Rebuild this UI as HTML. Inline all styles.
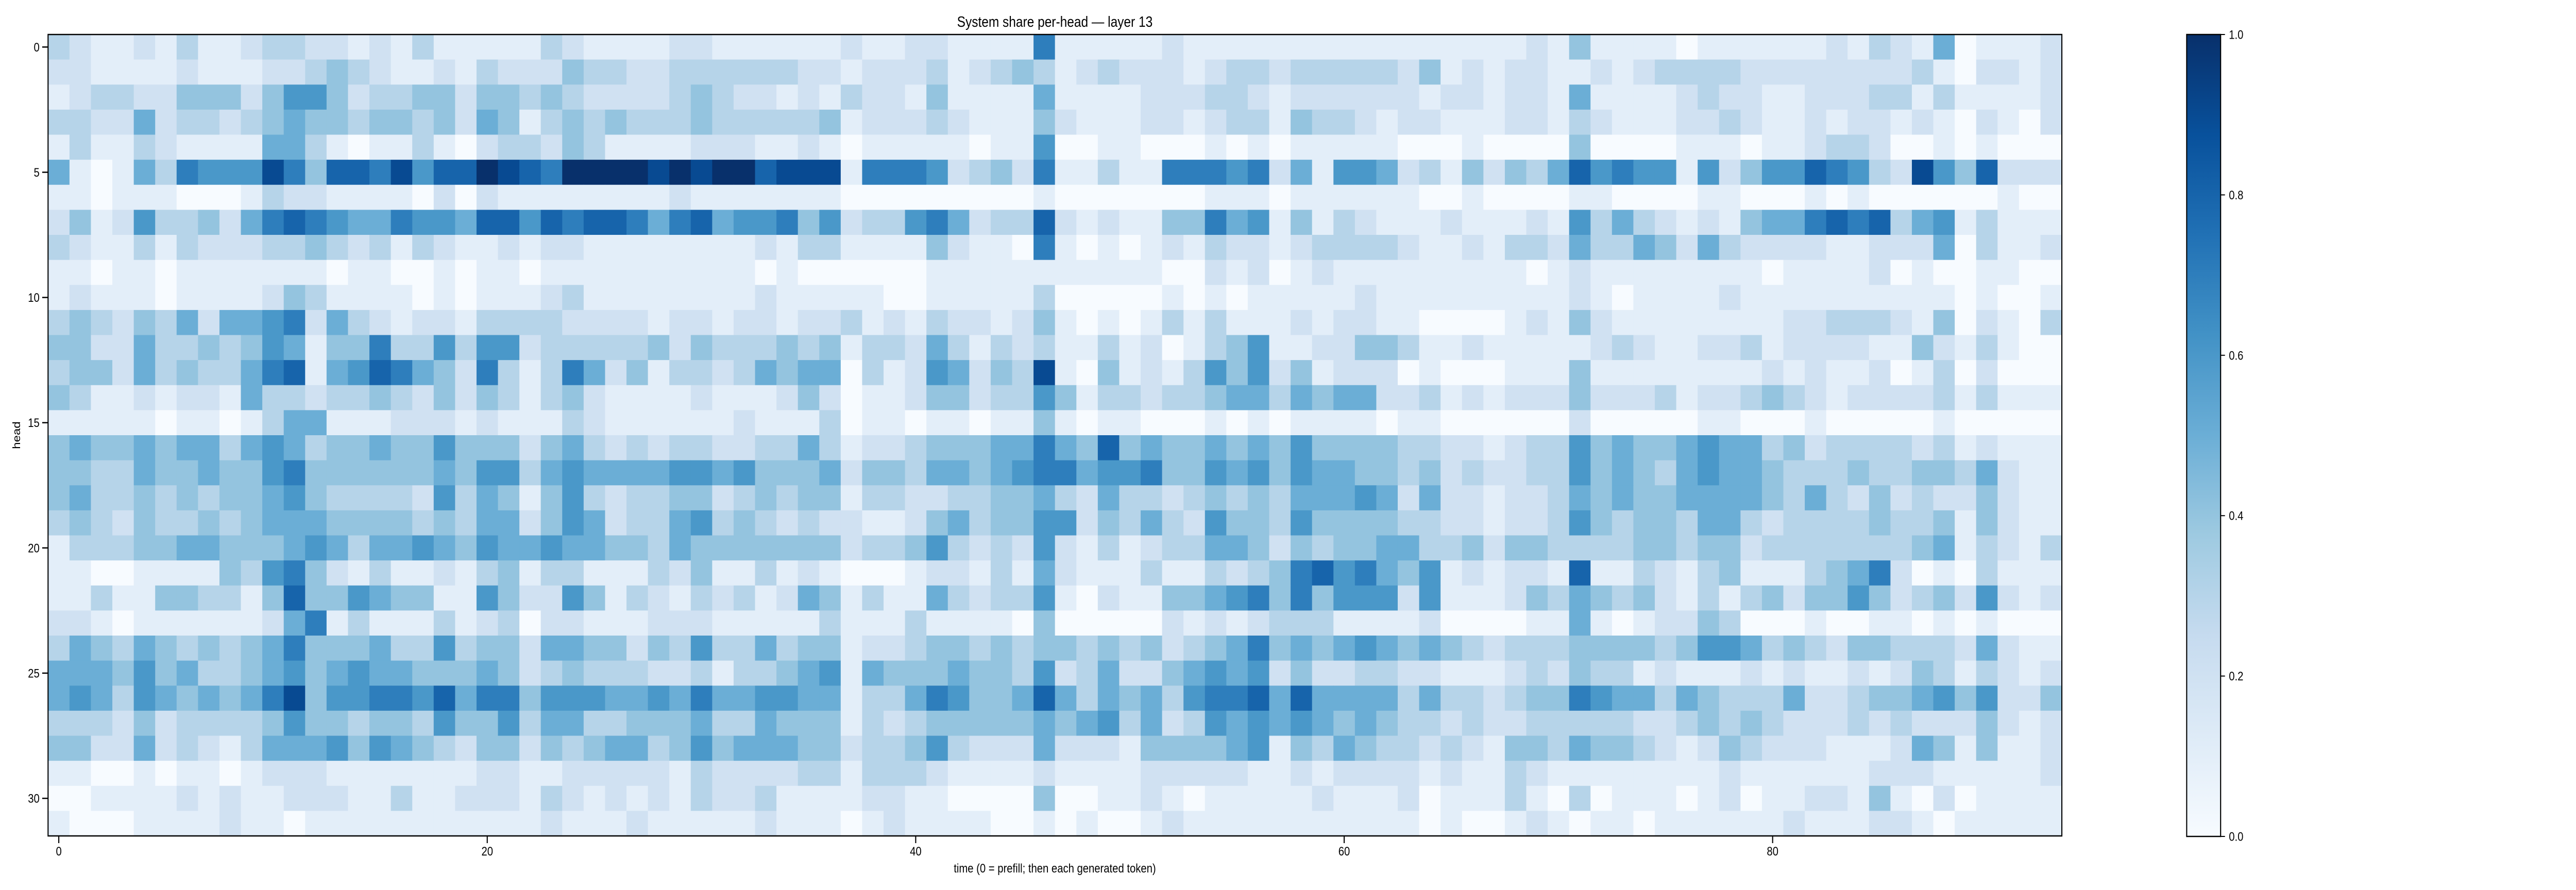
<!DOCTYPE html>
<html><head><meta charset="utf-8"><title>System share per-head — layer 13</title>
<style>
html,body{margin:0;padding:0;background:#fff;width:100%;height:100%;overflow:hidden;}
svg{display:block;position:absolute;left:0;top:0;width:100vw;height:100vh;font-family:"Liberation Sans","DejaVu Sans",sans-serif;}
</style></head>
<body>
<svg id="chart" viewBox="0 0 5922 1728" preserveAspectRatio="none" xmlns="http://www.w3.org/2000/svg">
<rect width="5922" height="1728" fill="#ffffff"/>
<text x="2425" y="52" font-size="29" text-anchor="middle" fill="#000">System share per-head — layer 13</text>
<g id="cells"></g>
<rect x="110.5" y="67" width="4629.5" height="1556" fill="none" stroke="#000" stroke-width="2.5"/>
<g id="xaxis"></g>
<g id="yaxis"></g>
<text x="2425" y="1694" font-size="24" text-anchor="middle" fill="#000">time (0 = prefill; then each generated token)</text>
<text x="0" y="0" font-size="24" text-anchor="middle" fill="#000" transform="translate(46,845) rotate(-90)">head</text>
<defs>
<linearGradient id="blues" x1="0" y1="1" x2="0" y2="0">
<stop offset="0" stop-color="#f7fbff"/><stop offset="0.125" stop-color="#deebf7"/><stop offset="0.25" stop-color="#c6dbef"/><stop offset="0.375" stop-color="#9ecae1"/><stop offset="0.5" stop-color="#6baed6"/><stop offset="0.625" stop-color="#4292c6"/><stop offset="0.75" stop-color="#2171b5"/><stop offset="0.875" stop-color="#08519c"/><stop offset="1" stop-color="#08306b"/>
</linearGradient>
</defs>
<rect x="5027" y="67" width="78" height="1557" fill="url(#blues)" stroke="#000" stroke-width="2.5"/>
<g id="cbar"></g>
</svg>
<script>
// Heat values: each char is a hex digit, value = digit/10 (a = 1.0)
const rowsA = ["321121311233221213111113","221111211122343211213222","123322444246642334424434","332252332345443443425413","131132111155310113102332","51015376669748879688a987","110111000132211110202111","241263342578765576658868","321131322233432313211212","110110111111101100101101","121110111124311110101112","343243525567253212213333","442253343465144733636623","344253433578156875427313","431121221533233432424313","111110110135511122212111","454454553565344544644424","443354454467444444546635","453343434456433332635414","343243343455544443435524","133344554445653556546556","110011114367421311213413","113114433148446544116422","221011111125713111312302","354354343457444533634425","555464533456456554445423","565365454579466776857746","333242333346443443644635","442252321355564654324424","110010110122211111112211","001111212112221131122213","100011112110111111111112"];
const rowsB = ["211112211111121122111171","433223333332212223123431","322223432212132214111151","434333433333412223211142","431111222112101111101160","aaaa9a9aa899917776234271","111112111111100000000010","788757856674623367523382","211111111213311114211071","111111111010000001111111","311111111211111001111130","222212212212231213221241","333342433343413325313231","752413323545503126524391","421111211124201124423364","321111112111301101101141","532323322335312234445575","655556656444524435545677","632334423434413322334453","652335634323221124534466","554435444444423346323262","311132411312100012213152","641321323125413115323361","211122211111311131111040","544243633534412234434344","433322313345615444544362","665565755665513357644585","533444533544413234444454","345534645554423346322252","222221322223313332111121","212121322311112211000040","111211111211101211110010"];
const rowsC = ["111121111111111111111214","232221233233333241212211","111222332122222212212215","111221233143321221112213","011000101011111000100004","131177767251665231424358","000000111011111100100001","121144756141321112111216","010121322123333211213325","111100212012111111111012","000010101111121111111112","010131311121221100001214","131201346112244311211111","041213646241222010001114","133233455354552231212224","011000101011110110000002","484544545464444332212336","566744656465544342322336","253323434355565252212235","243532644364444332212236","131233554243445533424433","111311323478675461212218","021144567474666261112435","000021212333111120000115","343423457454565454323334","352245656242233221112324","354536778585555353323447","563523656565454332322333","221444456143543323214435","111222221121222212113211","011210111112111201113103","100121111111111101001210"];
const rowsD = ["1111011111121321501112","2123333222222223102212","1111232211222331311112","2111223211212212102102","0000111011233200101000","6766162466876329648222","1000011000101000000100","3532121455787835613111","3354253222211222503112","1111111101111201001100","1011112111111111101001","2111111112233321402103","2321122312222114213100","1111111121211201302000","2223122343212222313111","0000011000100000100000","4544565534233332312111","4543565543334334435211","4544555543532423224211","4344355323333433414211","3344344233333334513213","1132134111345720103111","4342131342446423426212","1012243000100110101000","4443466534324433325211","3312111212112124313212","6553543335223445646224","3322343432223232224212","4432124322211125414112","1111112111111222111112","0111012011221410201111","1101111112111221011111"];
const xTicks = [0,20,40,60,80];
const xTickLabels = ["0","20","40","60","80"];
const yTicks = [0,5,10,15,20,25,30];
const yTickLabels = ["0","5","10","15","20","25","30"];
const cbarTicks = [0,0.2,0.4,0.6,0.8,1.0];
const cbarTickLabels = ["0.0","0.2","0.4","0.6","0.8","1.0"];

const NS="http://www.w3.org/2000/svg";
const X0=110.5, Y0=67, CW=49.25, RH=1556/32, CB_Y0=67, CB_H=1557;
const values = rowsA.map((r,i)=> (r+rowsB[i]+rowsC[i]+rowsD[i]).split('').map(c=>parseInt(c,16)/10));
const nCols = values[0].length, nRows = values.length;
function xScale(c){return X0 + c*CW;}
function yScale(r){return Y0 + r*RH;}
function cbScale(v){return CB_Y0 + CB_H*(1-v);}
const stops=[[0,[247,251,255]],[0.125,[222,235,247]],[0.25,[198,219,239]],[0.375,[158,202,225]],[0.5,[107,174,214]],[0.625,[66,146,198]],[0.75,[33,113,181]],[0.875,[8,81,156]],[1,[8,48,107]]];
function color(v){
  v=Math.max(0,Math.min(1,v));
  for(let i=1;i<stops.length;i++){
    if(v<=stops[i][0]){const a=stops[i-1],b=stops[i];const t=(v-a[0])/(b[0]-a[0]);
      const c=a[1].map((x,k)=>Math.round(x+(b[1][k]-x)*t));return `rgb(${c[0]},${c[1]},${c[2]})`;}
  }
  return 'rgb(8,48,107)';
}
const cells=document.getElementById('cells');
for(let r=0;r<nRows;r++){for(let c=0;c<nCols;c++){
  const el=document.createElementNS(NS,'rect');
  
  
  el.setAttribute('x',xScale(c));el.setAttribute('y',yScale(r));
  el.setAttribute('width',CW+0.6);el.setAttribute('height',RH+0.6);
  el.setAttribute('fill',color(values[r][c]));
  cells.appendChild(el);
}}
const xa=document.getElementById('xaxis');
xTicks.forEach((t,i)=>{
  const x=xScale(t+0.5);
  const ln=document.createElementNS(NS,'line');
  
  
  ln.setAttribute('x1',x);ln.setAttribute('x2',x);ln.setAttribute('y1',1623);ln.setAttribute('y2',1637);ln.setAttribute('stroke','#000');ln.setAttribute('stroke-width','2.5');
  xa.appendChild(ln);
  const tx=document.createElementNS(NS,'text');
  
  
  tx.setAttribute('x',x);tx.setAttribute('y',1661);tx.setAttribute('font-size','24');tx.setAttribute('text-anchor','middle');
  tx.textContent=xTickLabels[i];xa.appendChild(tx);
});
const ya=document.getElementById('yaxis');
yTicks.forEach((t,i)=>{
  const y=yScale(t+0.5);
  const ln=document.createElementNS(NS,'line');
  
  
  ln.setAttribute('x1',97);ln.setAttribute('x2',110.5);ln.setAttribute('y1',y);ln.setAttribute('y2',y);ln.setAttribute('stroke','#000');ln.setAttribute('stroke-width','2.5');
  ya.appendChild(ln);
  const tx=document.createElementNS(NS,'text');
  
  
  tx.setAttribute('x',91);tx.setAttribute('y',y+8.5);tx.setAttribute('font-size','24');tx.setAttribute('text-anchor','end');
  tx.textContent=yTickLabels[i];ya.appendChild(tx);
});
const cb=document.getElementById('cbar');
cbarTicks.forEach((t,i)=>{
  const y=cbScale(t);
  const ln=document.createElementNS(NS,'line');
  
  
  ln.setAttribute('x1',5105);ln.setAttribute('x2',5115);ln.setAttribute('y1',y);ln.setAttribute('y2',y);ln.setAttribute('stroke','#000');ln.setAttribute('stroke-width','2');
  cb.appendChild(ln);
  const tx=document.createElementNS(NS,'text');
  
  
  tx.setAttribute('x',5124);tx.setAttribute('y',y+8.5);tx.setAttribute('font-size','24');tx.setAttribute('text-anchor','start');
  tx.textContent=cbarTickLabels[i];cb.appendChild(tx);
});
</script>
</body></html>
